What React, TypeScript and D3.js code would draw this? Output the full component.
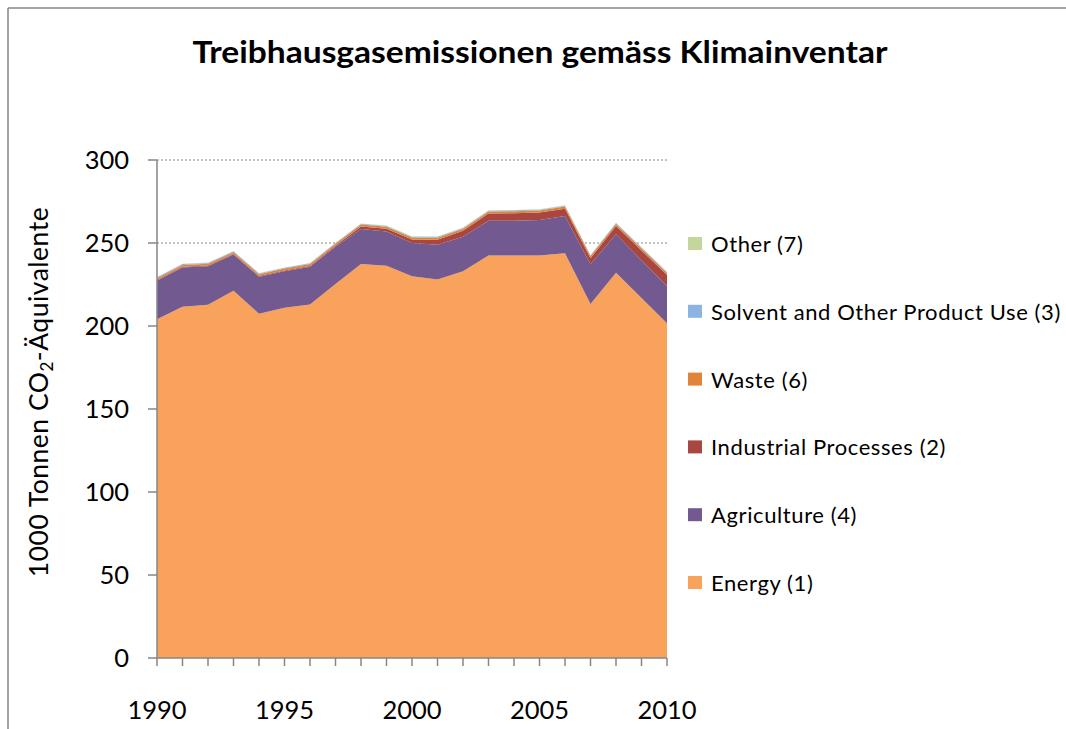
import React from "react";
import * as d3 from "d3";

// Treibhausgasemissionen, 1000 t CO2-Äquivalente
const years = [
  1990, 1991, 1992, 1993, 1994, 1995, 1996, 1997, 1998, 1999, 2000,
  2001, 2002, 2003, 2004, 2005, 2006, 2007, 2008, 2009, 2010,
];
const energy = [
  204, 211.6, 212.8, 221.3, 207.4, 211, 213, 225.3, 237.3, 236.3, 229.9,
  228, 233, 242.4, 242.4, 242.4, 243.8, 213.3, 232.1, 216.9, 201.6,
];
const agriculture = [
  23.3, 23.7, 23.2, 21.7, 22.3, 22, 22.7, 22.5, 21.1, 20.7, 20.1,
  21, 20.8, 21, 21, 21.5, 22.5, 23.9, 23.1, 22.7, 22.5,
];
const industrial = [
  0.4, 0.4, 0.4, 0.4, 0.4, 0.5, 0.5, 0.6, 1.5, 1.6, 2.1,
  3, 3.6, 4.3, 4.5, 4.4, 4.4, 3.6, 5, 5.9, 6.6,
];
const waste = [
  1.1, 1.1, 1.1, 1.1, 1.1, 1.1, 1.1, 1.1, 1.2, 1.2, 1.2,
  1.2, 1.2, 1.3, 1.3, 1.3, 1.3, 1.3, 1.3, 1.3, 1.3,
];
const solvent = [
  0.5, 0.5, 0.5, 0.5, 0.5, 0.5, 0.5, 0.5, 0.5, 0.5, 0.5,
  0.5, 0.5, 0.5, 0.5, 0.5, 0.5, 0.5, 0.5, 0.5, 0.5,
];
const other = [
  0.2, 0.2, 0.2, 0.2, 0.2, 0.2, 0.2, 0.2, 0.2, 0.2, 0.2,
  0.2, 0.2, 0.2, 0.2, 0.2, 0.2, 0.2, 0.2, 0.2, 0.2,
];

const seriesNames = [
  "Energy (1)",
  "Agriculture (4)",
  "Industrial Processes (2)",
  "Waste (6)",
  "Solvent and Other Product Use (3)",
  "Other (7)",
];
const seriesColors = ["#F9A25C", "#725A91", "#A8463F", "#E0843A", "#8DB3E2", "#C3D69B"];
const yTicks = [0, 50, 100, 150, 200, 250, 300];
const xLabels = [1990, 1995, 2000, 2005, 2010];

const font = "Lato, 'Open Sans', sans-serif";

const App = () => {
  const width = 1066;
  const height = 729;
  const plot = { left: 157, right: 667, top: 160, bottom: 658 };

  const values = [energy, agriculture, industrial, waste, solvent, other];
  const rows = years.map((yr, i) => {
    const r: Record<string, number> = { year: yr };
    seriesNames.forEach((n, k) => (r[n] = values[k][i]));
    return r;
  });
  const stacked = d3.stack<Record<string, number>>().keys(seriesNames)(rows);

  const x = d3.scaleLinear().domain([1990, 2010]).range([plot.left, plot.right]);
  const y = d3.scaleLinear().domain([0, 300]).range([plot.bottom, plot.top]);

  const area = d3
    .area<d3.SeriesPoint<Record<string, number>>>()
    .x((d) => x(d.data.year))
    .y0((d) => y(d[0]))
    .y1((d) => y(d[1]));

  const legendTop = 244;
  const legendStep = 67.8;
  const legendOrder = [...seriesNames].reverse();

  return (
    <svg
      width={width}
      height={height}
      style={{ position: "absolute", left: 0, top: 0 }}
    >
      <rect x={0} y={0} width={width} height={height} fill="#fff" />
      {/* chart frame (only top and left edges are inside the picture) */}
      <line x1={8} x2={width} y1={8} y2={8} stroke="#868686" strokeWidth={1.5} />
      <line x1={8} x2={8} y1={8} y2={height} stroke="#868686" strokeWidth={1.5} />

      <text
        x={540}
        y={63}
        textAnchor="middle"
        fontFamily={font}
        fontWeight="bold"
        fontSize={31}
        textLength={695}
        lengthAdjust="spacingAndGlyphs"
        fill="#000"
      >
        Treibhausgasemissionen gemäss Klimainventar
      </text>

      {/* gridlines */}
      {yTicks
        .filter((t) => t > 0)
        .map((t) => (
          <line
            key={"g" + t}
            x1={plot.left}
            x2={plot.right}
            y1={y(t)}
            y2={y(t)}
            stroke="#868686"
            strokeWidth={1}
            strokeDasharray="2,2"
          />
        ))}

      {/* stacked areas */}
      {stacked.map((s, i) => (
        <path key={s.key} d={area(s) || ""} fill={seriesColors[i]} />
      ))}

      {/* y axis */}
      <line x1={plot.left} x2={plot.left} y1={plot.top} y2={plot.bottom} stroke="#868686" strokeWidth={1.5} />
      {yTicks.map((t) => (
        <g key={"y" + t}>
          <line x1={plot.left - 9} x2={plot.left} y1={y(t)} y2={y(t)} stroke="#868686" strokeWidth={1.5} />
          <text
            x={129}
            y={y(t)}
            dy="0.36em"
            textAnchor="end"
            fontFamily={font}
            fontSize={25.5}
            fill="#000"
          >
            {t}
          </text>
        </g>
      ))}

      {/* x axis */}
      <line x1={plot.left} x2={plot.right} y1={plot.bottom} y2={plot.bottom} stroke="#868686" strokeWidth={1.5} />
      {years.map((yr) => (
        <line
          key={"xt" + yr}
          x1={x(yr)}
          x2={x(yr)}
          y1={plot.bottom}
          y2={plot.bottom + 8}
          stroke="#868686"
          strokeWidth={1.5}
        />
      ))}
      {xLabels.map((yr) => (
        <text
          key={"xl" + yr}
          x={x(yr)}
          y={719}
          textAnchor="middle"
          fontFamily={font}
          fontSize={25.5}
          fill="#000"
        >
          {yr}
        </text>
      ))}

      {/* y axis title */}
      <text
        transform="translate(48,392) rotate(-90)"
        textAnchor="middle"
        fontFamily={font}
        fontSize={26.5}
        letterSpacing={0.5}
        fill="#000"
      >
        1000 Tonnen CO
        <tspan fontSize={17} dy={5}>2</tspan>
        <tspan dy={-5}>-Äquivalente</tspan>
      </text>

      {/* legend */}
      {legendOrder.map((name, i) => {
        const cy = legendTop + i * legendStep;
        const color = seriesColors[seriesNames.indexOf(name)];
        return (
          <g key={name}>
            <rect x={688} y={cy - 7} width={14} height={13} fill={color} />
            <text
              x={711}
              y={cy}
              dy="0.36em"
              fontFamily={font}
              fontSize={22}
              letterSpacing={0.6}
              fill="#000"
            >
              {name}
            </text>
          </g>
        );
      })}
    </svg>
  );
};

export default App;
